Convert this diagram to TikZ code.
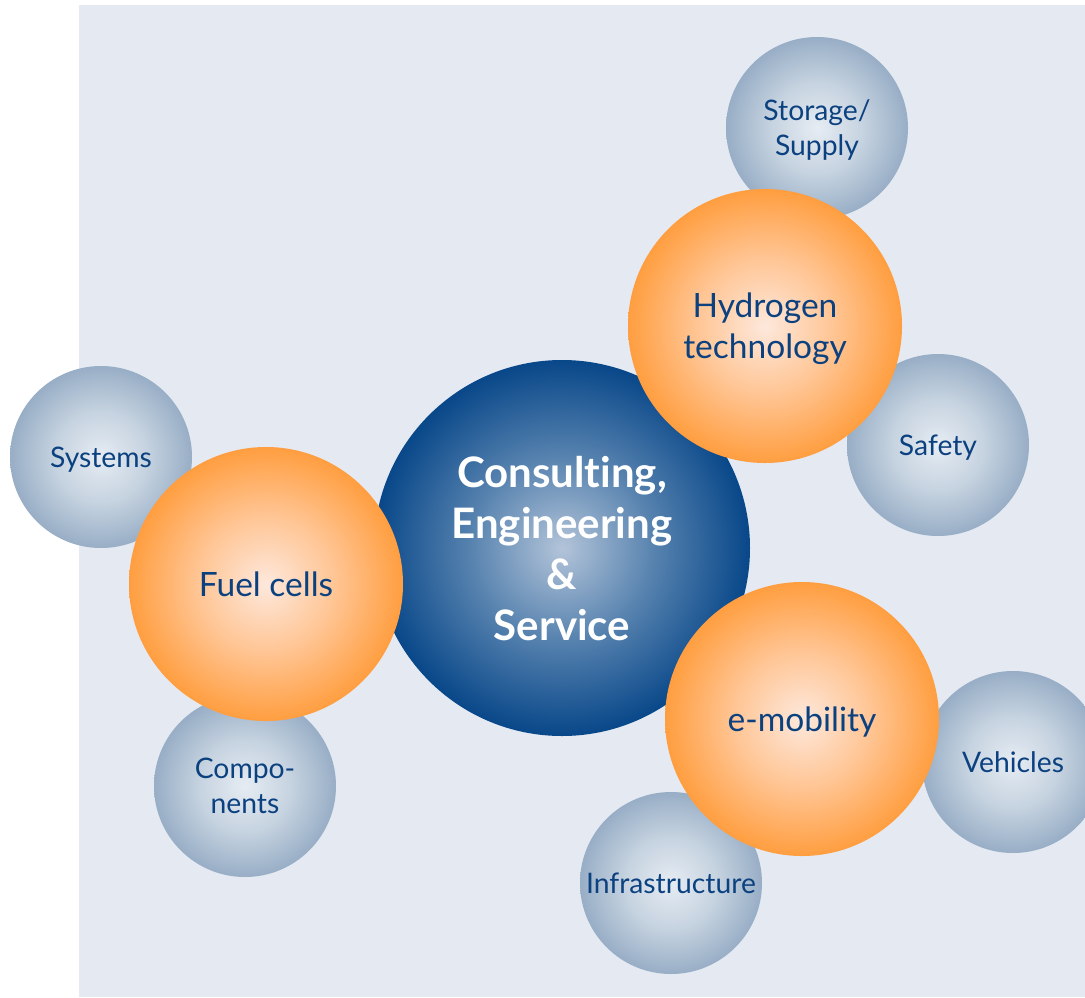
\documentclass[tikz,border=0pt]{standalone}
\usepackage{fontspec}
\setmainfont[Ligatures={NoCommon}]{Lato}
\definecolor{bg}{HTML}{E4E9F2}
\definecolor{txt}{HTML}{0C4180}
\definecolor{gin}{HTML}{E6ECF3}
\definecolor{gmid}{HTML}{C6D3E0}
\definecolor{gout}{HTML}{98AEC6}
\definecolor{oin}{HTML}{FDE8DC}
\definecolor{omid}{HTML}{FFC594}
\definecolor{oout}{HTML}{FF9E40}
\definecolor{bin}{HTML}{B3C4D9}
\definecolor{bmid}{HTML}{5581AE}
\definecolor{bout}{HTML}{084789}
\pgfdeclareradialshading{greyball}{\pgfpointorigin}{color(0bp)=(gin);color(12.5bp)=(gmid);color(25bp)=(gout);color(50bp)=(gout)}
\pgfdeclareradialshading{orangeball}{\pgfpointorigin}{color(0bp)=(oin);color(12.5bp)=(omid);color(25bp)=(oout);color(50bp)=(oout)}
\pgfdeclareradialshading{blueball}{\pgfpointorigin}{color(0bp)=(bin);color(12.5bp)=(bmid);color(25bp)=(bout);color(50bp)=(bout)}
\tikzset{
  ball/.style={circle, inner sep=0pt, align=center, text=txt, text depth=0pt},
  greyb/.style={ball, minimum size=182pt, shade, shading=greyball, font=\fontsize{28.3}{35}\selectfont},
  orangeb/.style={ball, minimum size=274pt, shade, shading=orangeball, font=\fontsize{33.5}{41}\selectfont},
  blueb/.style={ball, minimum size=376pt, shade, shading=blueball, text=white, font=\bfseries\fontsize{42}{51}\selectfont},
}
\begin{document}
\begin{tikzpicture}[x=1pt,y=-1pt]
\useasboundingbox (0,0) rectangle (1085,997);
\clip (0,0) rectangle (1085,997);
\fill[bg] (79,5) rectangle (1085,997);
% grey satellites
\node[greyb] (sto) at (817,128) {Storage/\\Supply};
\node[greyb] (saf) at (938,445) {Safety};
\node[greyb] (sys) at (101,457) {Systems};
\node[greyb] (com) at (245,786) {Compo-\\nents};
\node[greyb] (veh) at (1013,762) {Vehicles};
\node[greyb] (inf) at (671,883) {Infrastructure};
% centre
\node[blueb] (cen) at (562,548) {Consulting,\\Engineering\\\&\\Service};
% orange
\node[orangeb] (hyd) at (765,326) {Hydrogen\\technology};
\node[orangeb] (fue) at (266,584) {Fuel cells};
\node[orangeb] (emo) at (802,719) {e-mobility};
\end{tikzpicture}
\end{document}
